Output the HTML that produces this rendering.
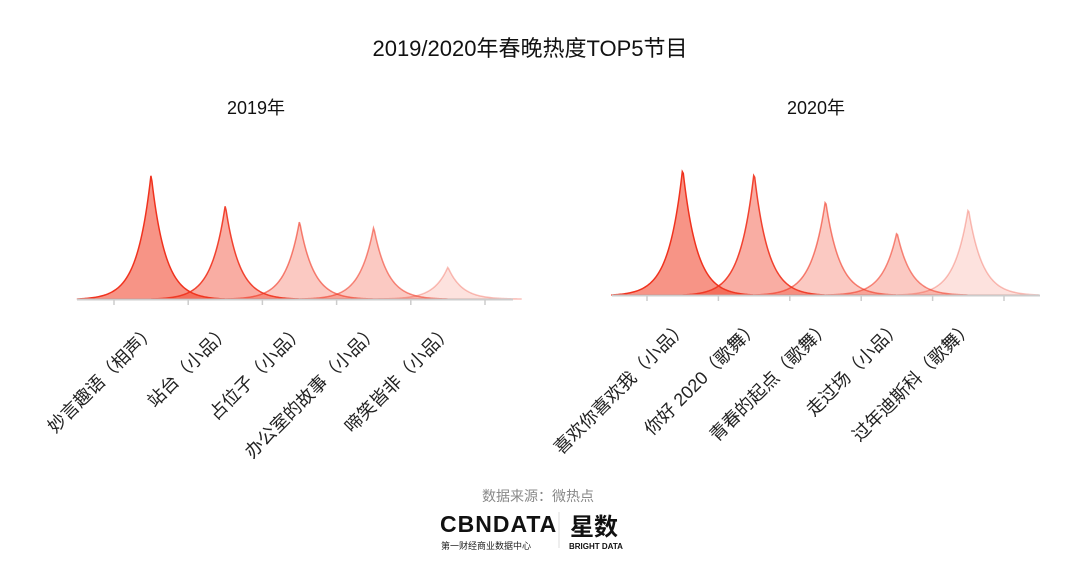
<!DOCTYPE html>
<html><head><meta charset="utf-8"><style>
body{margin:0;background:#fff;}
svg{display:block;font-family:"Liberation Sans","Noto Sans CJK SC",sans-serif;}
</style></head><body>
<svg id="c" width="1080" height="577" viewBox="0 0 1080 577">
<text x="530" y="56" text-anchor="middle" font-size="22" fill="#111">2019/2020年春晚热度TOP5节目</text>
<text x="256" y="114" text-anchor="middle" font-size="18" fill="#111">2019年</text>
<text x="816" y="114" text-anchor="middle" font-size="18" fill="#111">2020年</text>
<g id="g1"></g><g id="g2"></g>
<text x="538" y="501" text-anchor="middle" font-size="14" fill="#888">数据来源：微热点</text>
<text x="440" y="532" font-size="23" font-weight="bold" fill="#111" letter-spacing="1">CBNDATA</text>
<text x="441" y="549" font-size="9" fill="#222">第一财经商业数据中心</text>
<line x1="559" y1="512" x2="559" y2="548" stroke="#ddd"/>
<text x="570" y="535" font-size="24" font-weight="bold" fill="#111">星数</text>
<text x="569" y="549" font-size="8" font-weight="bold" fill="#111">BRIGHT DATA</text>
</svg>
<script>
const cats2019 = ["妙言趣语（相声）","站台（小品）","占位子（小品）","办公室的故事（小品）","啼笑皆非（小品）"];
const vals2019 = [125, 94, 78, 72, 32];
const cats2020 = ["喜欢你喜欢我（小品）","你好 2020（歌舞）","青春的起点（歌舞）","走过场（小品）","过年迪斯科（歌舞）"];
const vals2020 = [127, 123, 95, 63, 87];
const fills = [0.55, 0.42, 0.28, 0.28, 0.15];
const strokes = [1, 0.9, 0.6, 0.55, 0.3];
const NS = "http://www.w3.org/2000/svg";
function panel(gid, cats, vals, x0, x1, firstTick, step, base, scaleMax) {
  const g = document.getElementById(gid);
  const xs = i => firstTick + step * (i + 0.5);
  const ys = v => base - v * (125 / scaleMax);
  const ax = document.createElementNS(NS, "line");
  
  
  ax.setAttribute("x1", x0); ax.setAttribute("x2", x1); ax.setAttribute("y1", base + 0.5); ax.setAttribute("y2", base + 0.5);
  ax.setAttribute("stroke", "#ccc"); ax.setAttribute("stroke-width", "2");
  const s = 14, eEnd = Math.exp(-step / s);
  for (let i = 0; i < cats.length; i++) {
    const px = xs(i), py = ys(vals[i]), h = base - py;
    let d = "M" + (px - step) + "," + base;
    for (let dx = -step; dx <= step; dx += 1) {
      const e = (Math.exp(-Math.abs(dx) / s) - eEnd) / (1 - eEnd);
      const y = base - h * e;
      d += " L" + (px + dx) + "," + y.toFixed(2);
    }
    d += " Z";
    const p = document.createElementNS(NS, "path");
    
    
    p.setAttribute("d", d);
    p.setAttribute("fill", "rgba(240,60,35," + fills[i] + ")");
    p.setAttribute("stroke", "rgba(240,50,30," + strokes[i] + ")");
    p.setAttribute("stroke-width", "1.5");
    g.appendChild(p);
  }
  g.appendChild(ax);
  for (let i = 0; i <= cats.length; i++) {
    const t = document.createElementNS(NS, "line");
    
    
    const tx = firstTick + step * i;
    t.setAttribute("x1", tx); t.setAttribute("x2", tx); t.setAttribute("y1", base); t.setAttribute("y2", base + 6);
    t.setAttribute("stroke", "#ccc"); t.setAttribute("stroke-width", "1.5");
    g.appendChild(t);
  }
  for (let i = 0; i < cats.length; i++) {
    const lx = xs(i) + 6, ly = base + 33;
    const tx = document.createElementNS(NS, "text");
    
    
    tx.setAttribute("x", lx); tx.setAttribute("y", ly);
    tx.setAttribute("text-anchor", "end");
    tx.setAttribute("font-size", "18");
    tx.setAttribute("fill", "#222");
    tx.setAttribute("transform", "rotate(-45 " + lx + " " + ly + ")");
    tx.textContent = cats[i];
    g.appendChild(tx);
  }
}
panel("g1", cats2019, vals2019, 77, 513, 114, 74.2, 299, 125);
panel("g2", cats2020, vals2020, 612, 1040, 647, 71.4, 295, 125);
</script>
</body></html>
